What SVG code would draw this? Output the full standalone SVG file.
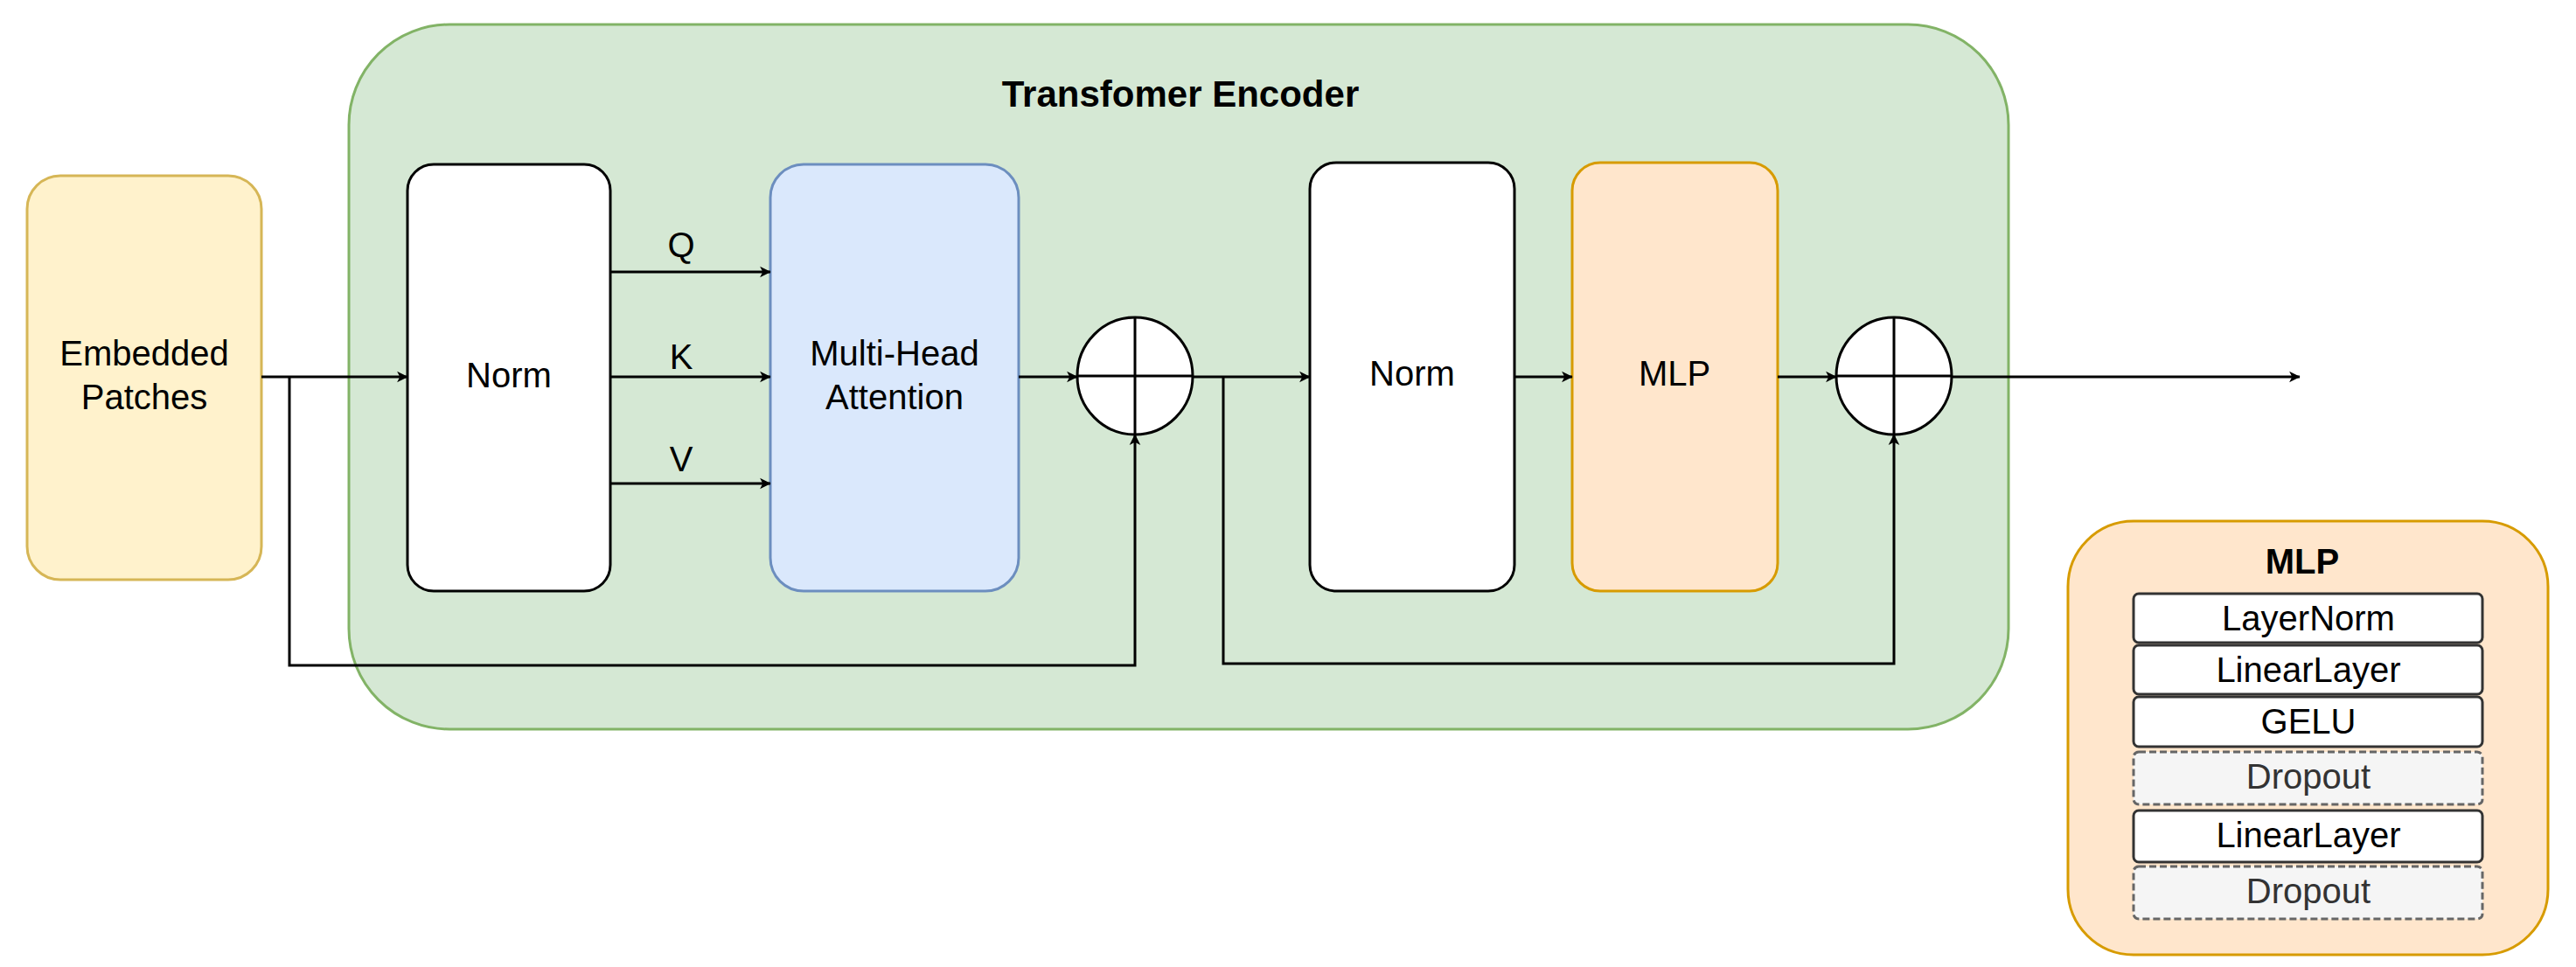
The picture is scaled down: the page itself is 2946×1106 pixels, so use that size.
<svg xmlns="http://www.w3.org/2000/svg" width="2946" height="1106" viewBox="0 0 2946 1106">
<defs>
<style>
text{font-family:"Liberation Sans",Arial,sans-serif;fill:#000;text-anchor:middle;dominant-baseline:central}
.t{font-size:40px}
.s{font-size:40px}
.b{font-weight:bold;font-size:42px}
.ln{fill:none;stroke:#000;stroke-width:3}
.white{fill:#fff;stroke:#000;stroke-width:3}
.row{fill:#fff;stroke:#333;stroke-width:3}
.drop{fill:#f5f5f5;stroke:#666;stroke-width:3;stroke-dasharray:8 4}
</style>
<marker id="a" viewBox="0 0 20 20" refX="18" refY="10" markerWidth="9" markerHeight="9" markerUnits="userSpaceOnUse" orient="auto" overflow="visible">
<path d="M0,0 L20,10 L0,20 L5,10 Z" fill="#000" transform="scale(1.4) translate(-6,-2.9)"/>
</marker>
</defs>
<rect width="2946" height="1106" fill="#fff"/>
<g id="encoder">
<rect x="399" y="28" width="1898" height="806" rx="115" fill="#d5e8d4" stroke="#82b366" stroke-width="3"/>
<text class="b" x="1350" y="107">Transfomer Encoder</text>
</g>
<g id="embedded">
<rect x="31" y="201" width="268" height="462" rx="38" fill="#fff2cc" stroke="#d6b656" stroke-width="3"/>
<text class="t" x="165" y="404">Embedded</text>
<text class="t" x="165" y="454">Patches</text>
</g>
<g id="norm1">
<rect class="white" x="466" y="188" width="232" height="488" rx="30"/>
<text class="t" x="582" y="429">Norm</text>
</g>
<g id="mha">
<rect x="881" y="188" width="284" height="488" rx="38" fill="#dae8fc" stroke="#6c8ebf" stroke-width="3"/>
<text class="t" x="1023" y="404">Multi-Head</text>
<text class="t" x="1023" y="454">Attention</text>
</g>
<g id="add1">
<ellipse class="white" cx="1298" cy="430" rx="66" ry="67"/>
<line class="ln" x1="1298" y1="363" x2="1298" y2="497"/>
<line class="ln" x1="1232" y1="430" x2="1364" y2="430"/>
</g>
<g id="norm2">
<rect class="white" x="1498" y="186" width="234" height="490" rx="30"/>
<text class="t" x="1615" y="427">Norm</text>
</g>
<g id="mlp">
<rect x="1798" y="186" width="235" height="490" rx="32" fill="#ffe6cc" stroke="#d79b00" stroke-width="3"/>
<text class="t" x="1915" y="427">MLP</text>
</g>
<g id="add2">
<ellipse class="white" cx="2166" cy="430" rx="66" ry="67"/>
<line class="ln" x1="2166" y1="363" x2="2166" y2="497"/>
<line class="ln" x1="2100" y1="430" x2="2232" y2="430"/>
</g>
<g id="connectors">
<line class="ln" x1="299" y1="431" x2="466" y2="431" marker-end="url(#a)"/>
<polyline class="ln" points="331,431 331,761 1298,761 1298,497" marker-end="url(#a)"/>
<line class="ln" x1="698" y1="311" x2="881" y2="311" marker-end="url(#a)"/>
<line class="ln" x1="698" y1="431" x2="881" y2="431" marker-end="url(#a)"/>
<line class="ln" x1="698" y1="553" x2="881" y2="553" marker-end="url(#a)"/>
<text class="s" x="779" y="280">Q</text>
<text class="s" x="779" y="408">K</text>
<text class="s" x="779" y="525">V</text>
<line class="ln" x1="1165" y1="431" x2="1232" y2="431" marker-end="url(#a)"/>
<line class="ln" x1="1364" y1="431" x2="1498" y2="431" marker-end="url(#a)"/>
<polyline class="ln" points="1399,431 1399,759 2166,759 2166,497" marker-end="url(#a)"/>
<line class="ln" x1="1732" y1="431" x2="1798" y2="431" marker-end="url(#a)"/>
<line class="ln" x1="2033" y1="431" x2="2100" y2="431" marker-end="url(#a)"/>
<line class="ln" x1="2232" y1="431" x2="2630" y2="431" marker-end="url(#a)"/>
</g>
<g id="mlp-detail">
<rect x="2365" y="596" width="549" height="496" rx="75" fill="#ffe6cc" stroke="#d79b00" stroke-width="3"/>
<text class="b" x="2633" y="642" style="font-size:40px">MLP</text>
<rect class="row" x="2440" y="679" width="399" height="56" rx="6"/>
<text class="t" x="2640" y="707">LayerNorm</text>
<rect class="row" x="2440" y="738" width="399" height="56" rx="6"/>
<text class="t" x="2640" y="766">LinearLayer</text>
<rect class="row" x="2440" y="797" width="399" height="57" rx="6"/>
<text class="t" x="2640" y="825">GELU</text>
<rect class="drop" x="2440" y="860" width="399" height="60" rx="6"/>
<text class="t" x="2640" y="888" style="fill:#333">Dropout</text>
<rect class="row" x="2440" y="927" width="399" height="59" rx="6"/>
<text class="t" x="2640" y="955">LinearLayer</text>
<rect class="drop" x="2440" y="991" width="399" height="60" rx="6"/>
<text class="t" x="2640" y="1019" style="fill:#333">Dropout</text>
</g>
</svg>
